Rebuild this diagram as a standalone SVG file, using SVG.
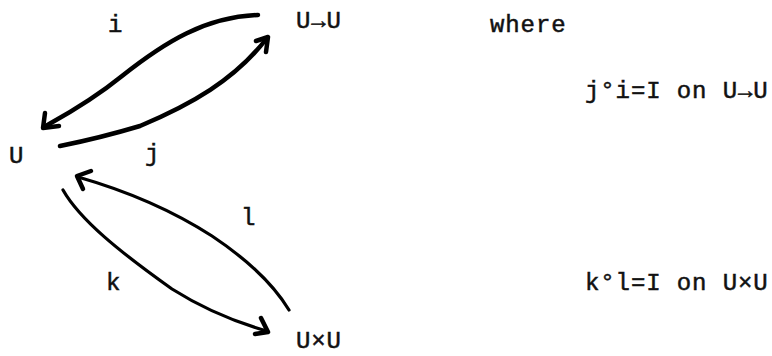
<svg xmlns="http://www.w3.org/2000/svg" width="772" height="356" viewBox="0 0 772 356">
<style>
text{font-family:"Liberation Mono","DejaVu Sans Mono",monospace;font-size:24px;fill:#111;stroke:#111;stroke-width:0.5;letter-spacing:0.9px}
.c{fill:none;stroke:#000;stroke-linecap:round;stroke-linejoin:round}
.b{stroke-width:4.5}
.t{stroke-width:3.2}
</style>
<rect width="772" height="356" fill="#fff"/>
<g id="connectors">
<g id="arrow-i"><path class="c b" d="M258,15 C205,17 165,42 122,76 C90,102 60,118 44,127"/><path class="c b" d="M45,113 L43,128 L59,126"/></g>
<g id="arrow-j"><path class="c b" d="M60,146 C90,140 120,132 140,126 C190,105 235,80 267,38"/><path class="c b" d="M256,41 L268,37 L266,52"/></g>
<g id="arrow-l"><path class="c t" d="M289,310 C272,282 245,258 212,236 C170,209 120,189 78,177"/><path class="c b" d="M91,171 L77,176 L83,189"/></g>
<g id="arrow-k"><path class="c t" d="M63,190 C80,220 120,252 172,289 C202,308 235,322 267,331"/><path class="c b" d="M261,318 L268,332 L255,334"/></g>
</g>
<g id="node-U"><text x="9" y="163">U</text></g>
<g id="node-UtoU"><text x="296" y="28">U→U</text></g>
<g id="node-UxU"><text x="296" y="348">U×U</text></g>
<g id="labels">
<text x="108" y="32">i</text>
<text x="145" y="161">j</text>
<text x="241" y="225">l</text>
<text x="106" y="290">k</text>
<text x="490" y="32">where</text>
<text x="585" y="98">j°i=I on U→U</text>
<text x="585" y="290">k°l=I on U×U</text>
</g>
</svg>
